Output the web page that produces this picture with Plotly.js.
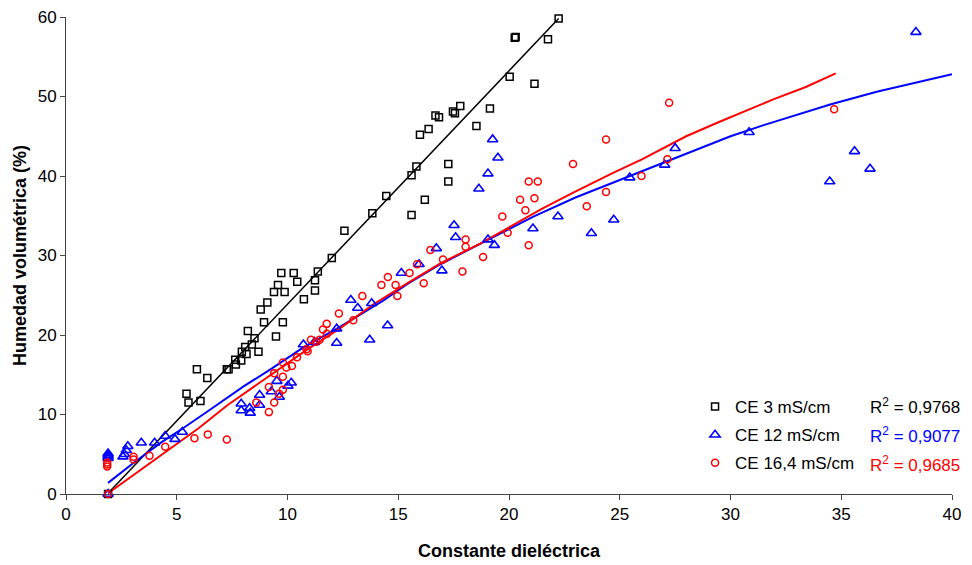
<!DOCTYPE html>
<html>
<head>
<meta charset="utf-8">
<script src="https://cdn.plot.ly/plotly-3.0.1.min.js"></script>
<style>html,body{margin:0;padding:0;background:#fff;}#chart{width:972px;height:565px;}</style>
</head>
<body>
<div id="chart"></div>
<script>
// ---- Data ----
const seriesNames = ["CE 3 mS/cm", "CE 12 mS/cm", "CE 16,4 mS/cm"];
const r2Labels = ["R<sup>2</sup> = 0,9768", "R<sup>2</sup> = 0,9077", "R<sup>2</sup> = 0,9685"];

const ce3X = [1.9, 5.44, 5.53, 6.07, 5.91, 6.38, 7.26, 7.34, 7.64, 7.67, 7.91, 7.94, 8.15, 8.09, 8.39, 8.51, 8.21, 8.69, 9.48, 8.94, 9.79, 8.79, 9.09, 10.74, 9.39, 9.87, 9.57, 10.44, 11.24, 11.24, 9.72, 10.28, 11.37, 12.0, 12.57, 13.83, 14.46, 15.6, 15.6, 15.82, 16.2, 17.26, 17.26, 15.98, 16.37, 16.68, 16.84, 17.47, 17.56, 17.8, 18.53, 19.14, 20.03, 20.26, 20.3, 21.15, 21.76, 22.24];
const ce3Y = [0, 12.6, 11.5, 11.7, 15.7, 14.6, 15.7, 15.7, 16.9, 16.3, 16.8, 17.9, 17.6, 18.5, 18.8, 19.6, 20.5, 17.9, 19.8, 21.6, 21.6, 23.2, 24.1, 24.5, 25.4, 25.4, 26.3, 26.7, 26.9, 25.6, 27.8, 27.8, 28.0, 29.7, 33.1, 35.3, 37.5, 35.1, 40.1, 41.2, 37.0, 41.5, 39.3, 45.2, 45.9, 47.6, 47.4, 48.1, 47.9, 48.8, 46.3, 48.5, 52.5, 57.4, 57.5, 51.6, 57.2, 59.8];

const ce12X = [1.9, 1.9, 1.9, 1.9, 1.9, 2.57, 2.64, 2.72, 2.79, 3.4, 4.0, 4.48, 4.92, 5.25, 7.91, 7.91, 8.29, 8.32, 8.74, 8.74, 9.27, 9.52, 9.63, 10.02, 10.17, 10.72, 11.22, 12.22, 12.22, 12.86, 13.17, 13.8, 13.71, 14.52, 15.14, 15.94, 16.72, 16.97, 17.52, 17.59, 18.64, 19.05, 19.5, 19.26, 19.05, 19.34, 21.08, 22.21, 23.72, 24.73, 25.45, 27.03, 27.5, 30.84, 34.48, 35.6, 36.3, 38.37];
const ce12Y = [0, 5.1, 4.9, 4.7, 4.5, 4.7, 5.0, 5.5, 6.0, 6.45, 6.45, 7.3, 6.9, 7.8, 11.35, 10.5, 10.8, 10.2, 12.45, 11.2, 12.9, 14.2, 12.2, 13.6, 14.0, 18.8, 19.1, 20.8, 19.0, 24.4, 23.4, 24.0, 19.4, 21.2, 27.8, 28.9, 30.9, 28.1, 33.8, 32.3, 38.4, 40.3, 42.3, 44.6, 32.0, 31.3, 33.4, 34.9, 32.8, 34.5, 39.8, 41.4, 43.5, 45.5, 39.3, 43.1, 40.9, 58.1];

const ce164X = [1.9, 1.86, 1.86, 1.86, 3.05, 3.05, 3.77, 4.48, 5.8, 6.4, 7.26, 8.59, 9.16, 9.16, 9.4, 9.4, 9.62, 9.79, 9.79, 9.79, 9.95, 10.2, 10.43, 10.86, 10.91, 11.06, 11.3, 11.45, 11.6, 11.77, 11.78, 12.32, 12.97, 13.38, 14.24, 14.53, 14.88, 14.96, 15.51, 15.85, 16.15, 16.45, 17.02, 17.9, 18.04, 18.04, 18.83, 19.7, 19.94, 20.5, 20.74, 20.89, 21.3, 21.15, 20.89, 22.89, 23.51, 24.38, 24.38, 25.98, 27.15, 27.23, 34.68];
const ce164Y = [0, 3.95, 3.7, 3.45, 4.7, 4.35, 4.8, 5.95, 7.0, 7.5, 6.85, 11.5, 10.3, 13.45, 11.5, 15.2, 12.6, 13.1, 14.75, 16.55, 15.9, 16.1, 17.2, 18.2, 17.95, 19.4, 19.15, 19.4, 20.7, 21.4, 20.15, 22.7, 21.85, 24.9, 26.3, 27.3, 26.3, 24.9, 27.8, 28.9, 26.5, 30.7, 29.5, 28.0, 32.0, 31.1, 29.8, 34.9, 32.85, 37.0, 35.7, 39.3, 39.3, 37.2, 31.3, 41.5, 36.2, 38.0, 44.6, 40.0, 42.1, 49.2, 48.4];

// trend lines as drawn in the reference
const fit3X = [1.9, 22.24];
const fit3Y = [0.1, 59.8];
const fit12X = [1.9, 3, 4.3, 5.3, 6.5, 8.0, 9.3, 10.7, 12.35, 14.3, 15.4, 16.9, 19.0, 21.1, 23.0, 25.0, 27.0, 28.5, 30.0, 31.5, 33.0, 34.5, 36.6, 38.7, 40];
const fit12Y = [1.4, 3.8, 6.5, 8.3, 10.6, 13.5, 15.8, 18.4, 21.0, 24.3, 26.4, 28.9, 31.9, 34.9, 37.3, 39.5, 41.7, 43.4, 45.0, 46.4, 47.7, 49.0, 50.6, 51.9, 52.8];
const fit164X = [1.9, 3, 4.4, 6, 7.3, 9.4, 10.85, 12.35, 13.9, 15.4, 16.9, 18.7, 20.2, 21.5, 22.9, 24.7, 26.0, 27.0, 28.0, 29.4, 30.7, 31.9, 33.4, 34.75];
const fit164Y = [0.1, 2.3, 5.0, 8.3, 11.2, 15.3, 18.1, 20.8, 23.9, 26.5, 29.0, 31.5, 33.9, 35.9, 37.9, 40.4, 42.1, 43.6, 45.0, 46.7, 48.2, 49.6, 51.2, 52.9];

const colors = ["#000000", "#0000ff", "#ff0000"];
const FONT = "Liberation Sans, Arial, sans-serif";

const traces = [
  {x: fit3X, y: fit3Y, mode: "lines", line: {color: colors[0], width: 1.5}, showlegend: false, hoverinfo: "skip", cliponaxis: false},
  {x: fit12X, y: fit12Y, mode: "lines", line: {color: colors[1], width: 2}, showlegend: false, hoverinfo: "skip", cliponaxis: false},
  {x: fit164X, y: fit164Y, mode: "lines", line: {color: colors[2], width: 2}, showlegend: false, hoverinfo: "skip", cliponaxis: false},
  {x: ce3X, y: ce3Y, mode: "markers", name: seriesNames[0], legendgroup: "a", cliponaxis: false,
   marker: {symbol: "square-open", size: 7, color: colors[0], line: {width: 1.5}}},
  {x: ce12X, y: ce12Y, mode: "markers", name: seriesNames[1], legendgroup: "b", cliponaxis: false,
   marker: {symbol: "triangle-up-open", size: 9, color: colors[1], line: {width: 1.6}}},
  {x: ce164X, y: ce164Y, mode: "markers", name: seriesNames[2], legendgroup: "c", cliponaxis: false,
   marker: {symbol: "circle-open", size: 7, color: colors[2], line: {width: 1.5}}}
];

const rowY = [0.184, 0.123, 0.063];
const annotations = r2Labels.map((t, i) => ({
  xref: "paper", yref: "paper", x: 0.905, y: rowY[i], xanchor: "left", yanchor: "middle",
  text: t, showarrow: false, font: {family: FONT, size: 17, color: colors[i]}
}));

const layout = {
  width: 972, height: 565,
  margin: {l: 66, r: 20, t: 17, b: 71, pad: 0},
  paper_bgcolor: "#ffffff", plot_bgcolor: "#ffffff",
  font: {family: FONT, size: 17, color: "#000"},
  xaxis: {
    range: [0, 40], dtick: 5, tick0: 0, showgrid: false, zeroline: false,
    showline: true, linecolor: "#444", linewidth: 1,
    ticks: "outside", ticklen: 5, tickcolor: "#444",
    tickfont: {family: FONT, size: 17},
    title: {text: "<b>Constante dieléctrica</b>", font: {family: FONT, size: 18}, standoff: 20}
  },
  yaxis: {
    range: [0, 60], dtick: 10, tick0: 0, showgrid: false, zeroline: false,
    showline: true, linecolor: "#444", linewidth: 1,
    ticks: "outside", ticklen: 5, tickcolor: "#444",
    tickfont: {family: FONT, size: 17},
    title: {text: "<b>Humedad volumétrica (%)</b>", font: {family: FONT, size: 18}, standoff: 6}
  },
  legend: {
    x: 0.71, y: 0.22, xanchor: "left", yanchor: "top",
    bgcolor: "rgba(0,0,0,0)", font: {family: FONT, size: 17},
    traceorder: "grouped", tracegroupgap: 3, itemwidth: 30
  },
  annotations: annotations,
  showlegend: true
};

Plotly.newPlot("chart", traces, layout, {displayModeBar: false, staticPlot: true});
</script>
</body>
</html>
